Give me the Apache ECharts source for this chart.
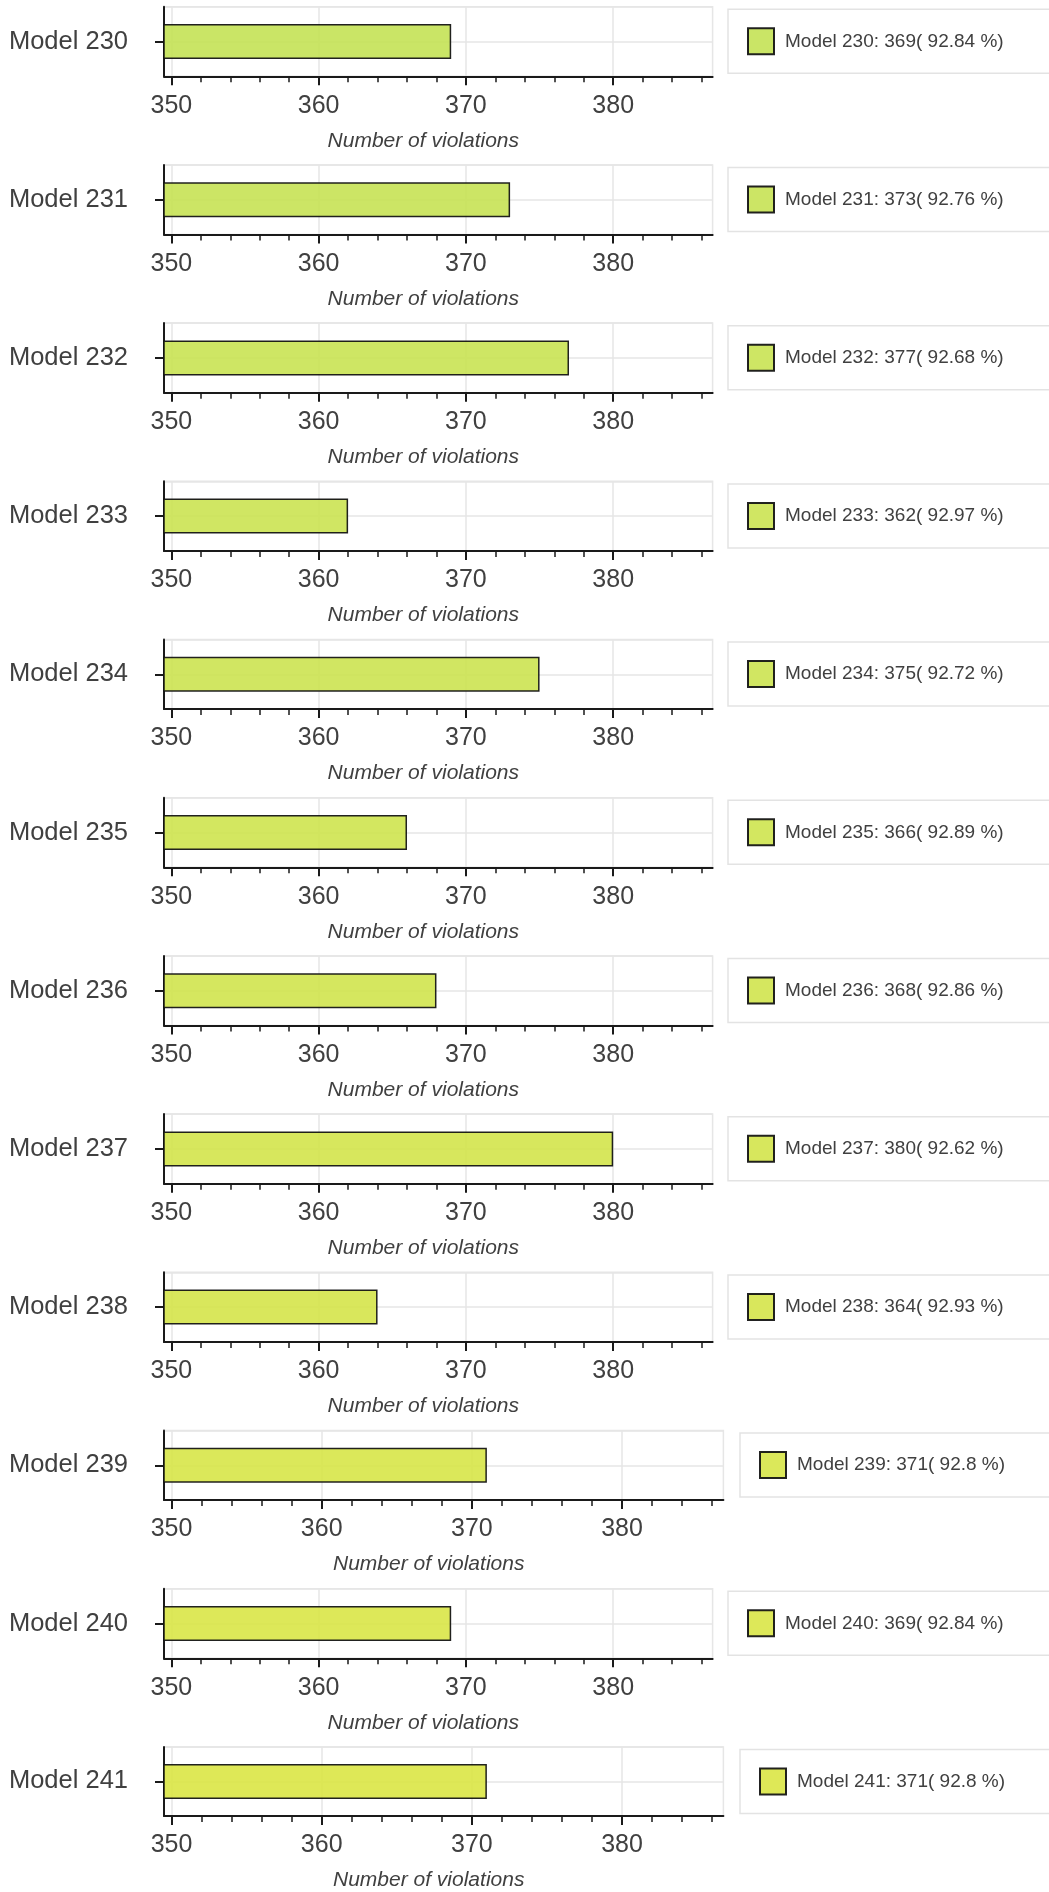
<!DOCTYPE html>
<html>
<head>
<meta charset="utf-8">
<script src="https://cdn.jsdelivr.net/npm/echarts@6/dist/echarts.min.js"></script>
<style>
html,body{margin:0;padding:0;background:#fff;}
#chart{width:1049px;height:1892px;}
</style>
</head>
<body>
<div id="chart"></div>
<script>
// ---- data ----
const models = ['Model 230','Model 231','Model 232','Model 233','Model 234','Model 235','Model 236','Model 237','Model 238','Model 239','Model 240','Model 241'];
const counts = [369, 373, 377, 362, 375, 366, 368, 380, 364, 371, 369, 371];
const pcts = ['92.84','92.76','92.68','92.97','92.72','92.89','92.86','92.62','92.93','92.8','92.84','92.8'];
const xTicks = [350, 360, 370, 380];
const xMinorTicks = [352,354,356,358,362,364,366,368,372,374,376,378,382,384,386];
const axisName = 'Number of violations';

// ---- styles ----
const colors = ['#c6e35a','#c8e359','#cae458','#cce457','#cee456','#d0e554','#d2e553','#d4e551','#d6e550','#d8e64e','#dae64c','#dce64a'];
const FONT = '"Liberation Sans", Arial, Helvetica, sans-serif';
const TXT = '#404040';
const GRIDC = '#e6e6e6';

const chart = echarts.init(document.getElementById('chart'), null, {renderer: 'canvas'});

const grids = [], xAxes = [], yAxes = [], series = [], legends = [];
const PITCH = 158.2, TOP0 = 6.7, GH = 69.6, LEFT = 164;

models.forEach((m, i) => {
  const wide = pcts[i].length < 5;
  const right = wide ? 723.4 : 712.6;
  const top = TOP0 + i * PITCH;
  grids.push({left: LEFT, top: top, width: right - LEFT, height: GH, show: true, borderColor: GRIDC, borderWidth: 1.5, backgroundColor: 'transparent', containLabel: false});
  xAxes.push({
    type: 'value', gridIndex: i, position: 'bottom', min: 349.5, max: 386.75,
    axisLine: {show: true, onZero: false, lineStyle: {color: '#1a1a1a', width: 2}},
    axisTick: {show: true, customValues: xTicks, length: 9, lineStyle: {color: '#1a1a1a', width: 2}},
    axisLabel: {show: true, customValues: xTicks, fontSize: 25, color: TXT, fontFamily: FONT, margin: 17},
    splitLine: {show: true, lineStyle: {color: GRIDC, width: 1.5}},
    name: axisName, nameLocation: 'middle', nameGap: 54,
    nameTextStyle: {fontSize: 21, fontStyle: 'italic', color: TXT, fontFamily: FONT, padding: [0, 30, 0, 0]}
  });
  xAxes.push({
    type: 'value', gridIndex: i, position: 'bottom', min: 349.5, max: 386.75,
    axisLine: {show: false},
    axisTick: {show: true, customValues: xMinorTicks, length: 6, lineStyle: {color: '#1a1a1a', width: 1.5}},
    axisLabel: {show: false},
    splitLine: {show: false}
  });
  yAxes.push({
    type: 'category', gridIndex: i, position: 'left', data: [m],
    axisLine: {show: true, lineStyle: {color: '#1a1a1a', width: 2}},
    axisTick: {show: true, alignWithLabel: true, length: 9, lineStyle: {color: '#1a1a1a', width: 2}},
    axisLabel: {fontSize: 25.5, color: TXT, fontFamily: FONT, margin: 36},
    splitLine: {show: false}
  });
  yAxes.push({
    type: 'value', gridIndex: i, position: 'left', min: 0, max: 2, interval: 1,
    axisLine: {show: false}, axisTick: {show: false}, axisLabel: {show: false},
    splitLine: {show: true, lineStyle: {color: GRIDC, width: 1.5}}
  });
  series.push({
    type: 'bar', name: m, xAxisIndex: 2 * i, yAxisIndex: 2 * i,
    data: [counts[i]], barWidth: 35,
    itemStyle: {color: colors[i], borderColor: '#111111', borderWidth: 1.5, opacity: 0.93},
    emphasis: {disabled: true}, animation: false
  });
  legends.push({
    data: [{name: m, icon: 'rect'}],
    left: wide ? 740 : 728, top: top + 2.6,
    orient: 'horizontal', selectedMode: false,
    itemWidth: 26, itemHeight: 26,
    padding: [18, 90, 18, 19],
    borderColor: '#e3e3e3', borderWidth: 1.5, backgroundColor: '#ffffff',
    formatter: () => `${m}: ${counts[i]}( ${pcts[i]} %)`,
    textStyle: {fontSize: 19, color: TXT, fontFamily: FONT, padding: [0, 0, 0, 6]}
  });
});

chart.setOption({
  animation: false,
  grid: grids, xAxis: xAxes, yAxis: yAxes, series: series, legend: legends
});
</script>
</body>
</html>
